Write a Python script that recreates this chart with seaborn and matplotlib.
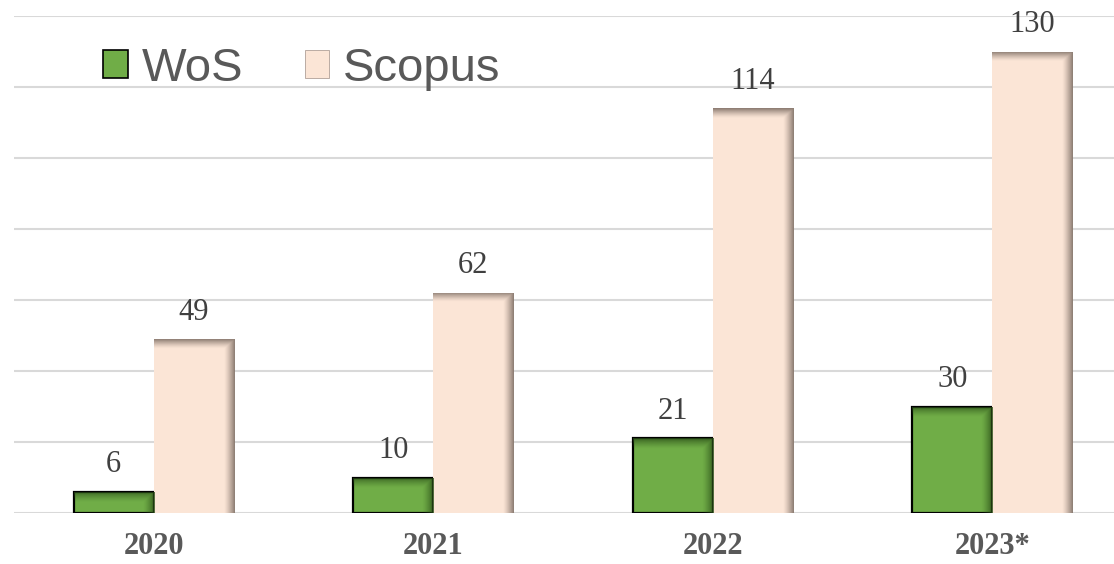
import numpy as np
import pandas as pd
import matplotlib.pyplot as plt
import matplotlib.colors as mcolors
from matplotlib.patches import Patch
import seaborn as sns

years = ["2020", "2021", "2022", "2023*"]
wos = [6, 10, 21, 30]
scopus = [49, 62, 114, 130]

df = pd.DataFrame({
    "Year": years * 2,
    "Count": wos + scopus,
    "Source": ["WoS"] * len(years) + ["Scopus"] * len(years),
})

green = "#70AD47"
peach = "#FBE5D6"
grid_col = "#D9D9D9"
text_col = "#595959"

sns.set_theme(style="white")
plt.rcParams["font.family"] = ["Liberation Serif", "DejaVu Serif"]

fig = plt.figure(figsize=(11.14, 5.64), dpi=100)
# plot area runs a little past the right edge of the picture, as in the original
ax = fig.add_axes([14 / 1114, 51 / 564, 1118 / 1114, 497 / 564])

sns.barplot(data=df, x="Year", y="Count", hue="Source",
            palette={"WoS": green, "Scopus": peach},
            width=0.573, gap=0, saturation=1, legend=False, ax=ax, zorder=2)

ax.set_ylim(0, 140)
ax.set_yticks(np.arange(0, 141, 20))
ax.yaxis.grid(True, color=grid_col, linewidth=1.5)
ax.set_axisbelow(True)
for s in ax.spines.values():
    s.set_visible(False)
ax.set_yticklabels([])
ax.tick_params(axis="y", length=0)
ax.tick_params(axis="x", length=0, pad=14)
ax.set_xlabel("")
ax.set_ylabel("")
for lab in ax.get_xticklabels():
    lab.set_fontweight("bold")
    lab.set_fontsize(22)
    lab.set_color(text_col)


def shade(bar, color, side_frac, top_units, strength, z):
    x0, y0 = bar.get_x(), bar.get_y()
    w, h = bar.get_width(), bar.get_height()
    nx, ny = 80, 300
    xs = np.linspace(0, 1, nx)
    ys = np.linspace(h, 0, ny)
    right = np.clip(1 - (1 - xs) / side_frac, 0, 1) ** 1.3
    top = np.clip(1 - (h - ys) / top_units, 0, 1) ** 1.3
    a = np.maximum(right[None, :], top[:, None]) * strength
    rgba = np.zeros((ny, nx, 4))
    rgba[..., :3] = mcolors.to_rgb(color)
    rgba[..., 3] = a
    im = ax.imshow(rgba, extent=[x0, x0 + w, y0, y0 + h], aspect="auto",
                   interpolation="bilinear", zorder=z)
    im.set_clip_path(bar)


wos_bars, sco_bars = ax.containers[0], ax.containers[1]
for b in wos_bars:
    b.set_edgecolor("black")
    b.set_linewidth(1.6)
    shade(b, "#2A4F18", 0.14, 3.0, 0.8, 2.5)
for b in sco_bars:
    b.set_edgecolor("none")
    shade(b, "#8A7A70", 0.13, 2.6, 0.95, 2.5)

ax.set_xlim(-0.5, 3.5)

for cont in (wos_bars, sco_bars):
    ax.bar_label(cont, fmt="%d", padding=9, fontsize=22, color="#404040")

handles = [Patch(facecolor=green, edgecolor="black", linewidth=1.2),
           Patch(facecolor=peach, edgecolor="#B0A098", linewidth=0.6)]
fig.legend(handles, ["WoS", "Scopus"], loc="center left",
           bbox_to_anchor=(103 / 1114, 1 - 69 / 564), ncol=2, frameon=False,
           prop={"family": ["Liberation Sans", "DejaVu Sans"], "size": 34},
           labelcolor=text_col, handlelength=0.52, handleheight=0.52,
           handletextpad=0.3, columnspacing=1.3, borderpad=0, borderaxespad=0)

fig.savefig("out.png", dpi=100)
